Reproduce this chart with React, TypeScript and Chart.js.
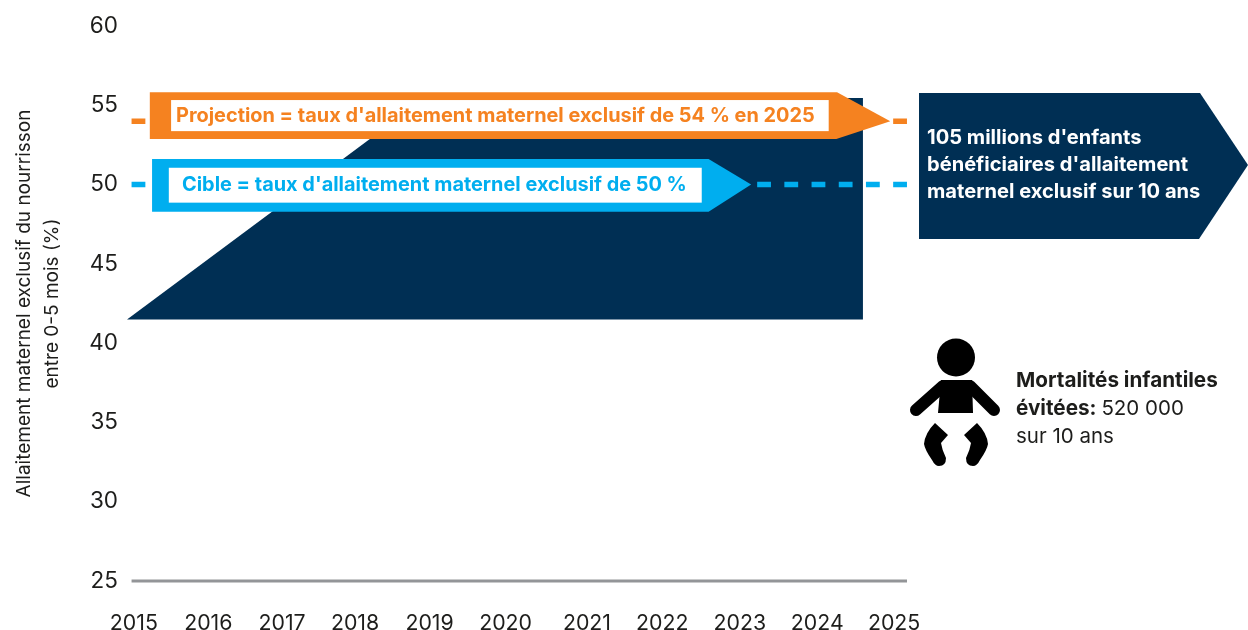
import React, { useEffect, useRef } from "react";
import { Chart, registerables } from "chart.js";

Chart.register(...registerables);

const FONT = "Inter, 'Noto Sans', sans-serif";
const NAVY = "#002F54";
const ORANGE = "#F58220";
const CYAN = "#00AEEF";
const INK = "#1d1d1b";

// Axis content
const yearTicks = [2015, 2015.98, 2016.95, 2017.91, 2018.89, 2019.89, 2020.96, 2021.95, 2022.97, 2023.99, 2025];
const yearLabels = ["2015", "2016", "2017", "2018", "2019", "2020", "2021", "2022", "2023", "2024", "2025"];
const yTitle = ["Allaitement maternel exclusif du nourrisson", "entre 0-5 mois (%)"];

// Series
const trendYears = [2014.91, 2018.83, 2024.59];
const trendRates = [41.49, 55.46, 55.46];
const trendFloor = 41.49;
const projectionYears = [2014.97, 2025.17];
const projectionRates = [54, 54];
const targetYears = [2014.97, 2025.17];
const targetRates = [50, 50];
const baselineYears = [2014.97, 2025.17];
const baselineRates = [25, 25];

// Arrow bands, in axis units: [year, rate]
const projectionArrow = [[2015.21, 55.82], [2024.25, 55.82], [2024.95, 54], [2024.24, 52.87], [2015.21, 52.87]];
const projectionBox = [2015.49, 55.33, 2024.14, 53.37];
const targetArrow = [[2015.24, 51.61], [2022.56, 51.61], [2023.12, 50], [2022.56, 48.29], [2015.24, 48.29]];
const targetBox = [2015.46, 51.06, 2022.47, 48.86];

const projectionText = "Projection = taux d'allaitement maternel exclusif de 54 % en 2025";
const targetText = "Cible = taux d'allaitement maternel exclusif de 50 %";
const calloutLines = ["105 millions d'enfants", "bénéficiaires d'allaitement", "maternel exclusif sur 10 ans"];

function pairs(xs: number[], ys: number[]) {
  return xs.map((x, i) => ({ x, y: ys[i] }));
}

function drawBand(chart: any, points: number[][], box: number[], color: string, text: string, textX: number) {
  const { ctx, scales } = chart;
  const px = (v: number) => scales.x.getPixelForValue(v);
  const py = (v: number) => scales.y.getPixelForValue(v);
  ctx.fillStyle = color;
  ctx.beginPath();
  points.forEach(([x, y], i) => (i ? ctx.lineTo(px(x), py(y)) : ctx.moveTo(px(x), py(y))));
  ctx.closePath();
  ctx.fill();
  const bx = px(box[0]);
  const by = py(box[1]);
  const bw = px(box[2]) - bx;
  const bh = py(box[3]) - by;
  ctx.fillStyle = "#ffffff";
  ctx.fillRect(bx, by, bw, bh);
  ctx.fillStyle = color;
  ctx.font = `700 19.9px ${FONT}`;
  ctx.textAlign = "left";
  ctx.textBaseline = "middle";
  ctx.fillText(text, textX, by + bh / 2);
}

function drawCallout(ctx: CanvasRenderingContext2D) {
  ctx.fillStyle = NAVY;
  ctx.beginPath();
  ctx.moveTo(919, 93);
  ctx.lineTo(1200, 93);
  ctx.lineTo(1248, 165);
  ctx.lineTo(1199, 239);
  ctx.lineTo(919, 239);
  ctx.closePath();
  ctx.fill();
  ctx.fillStyle = "#ffffff";
  ctx.font = `700 20.1px ${FONT}`;
  ctx.textAlign = "left";
  ctx.textBaseline = "middle";
  calloutLines.forEach((line, i) => ctx.fillText(line, 927, 138 + i * 27));
}

function drawBaby(ctx: CanvasRenderingContext2D) {
  ctx.fillStyle = "#000000";
  ctx.strokeStyle = "#000000";
  ctx.beginPath();
  ctx.arc(956, 357.5, 19, 0, Math.PI * 2);
  ctx.fill();
  // torso
  ctx.beginPath();
  ctx.moveTo(941, 380);
  ctx.lineTo(972, 380);
  ctx.lineTo(973, 413);
  ctx.lineTo(938, 413);
  ctx.closePath();
  ctx.fill();
  // arms
  ctx.lineCap = "round";
  ctx.lineWidth = 12;
  ctx.beginPath();
  ctx.moveTo(943, 386);
  ctx.lineTo(916, 410);
  ctx.moveTo(970, 386);
  ctx.lineTo(994, 410);
  ctx.stroke();
  // legs
  const leg = (m: number) => {
    const sx = (x: number) => (m < 0 ? 1912 - x : x);
    ctx.beginPath();
    ctx.moveTo(sx(935), 423);
    ctx.lineTo(sx(948), 435);
    ctx.lineTo(sx(941), 443);
    ctx.quadraticCurveTo(sx(942), 450, sx(946), 458);
    ctx.quadraticCurveTo(sx(946), 466, sx(939), 466);
    ctx.quadraticCurveTo(sx(935), 466, sx(932), 460);
    ctx.quadraticCurveTo(sx(925), 450, sx(924), 444);
    ctx.quadraticCurveTo(sx(925), 433, sx(935), 423);
    ctx.closePath();
    ctx.fill();
  };
  leg(1);
  leg(-1);
  // caption
  ctx.fillStyle = INK;
  ctx.textAlign = "left";
  ctx.textBaseline = "middle";
  ctx.font = `700 20.7px ${FONT}`;
  ctx.fillText("Mortalités infantiles", 1016, 381);
  ctx.fillText("évitées:", 1016, 409);
  const w = ctx.measureText("évitées: ").width;
  ctx.font = `400 20.5px ${FONT}`;
  ctx.fillText("520 000", 1016 + w, 409);
  ctx.fillText("sur 10 ans", 1016, 437);
}

const overlay = {
  id: "overlay",
  afterDatasetsDraw(chart: any) {
    const { ctx } = chart;
    ctx.save();
    drawBand(chart, projectionArrow, projectionBox, ORANGE, projectionText, 176);
    drawBand(chart, targetArrow, targetBox, CYAN, targetText, 182);
    drawCallout(ctx);
    drawBaby(ctx);
    ctx.restore();
  },
};

export default function App() {
  const ref = useRef<HTMLCanvasElement>(null);

  useEffect(() => {
    const line = {
      pointRadius: 0,
      clip: false,
      tension: 0,
      borderCapStyle: "butt",
    };
    const chart = new Chart(ref.current as HTMLCanvasElement, {
      type: "line",
      data: {
        datasets: [
          {
            ...line,
            label: "Projection",
            data: pairs(projectionYears, projectionRates),
            borderColor: ORANGE,
            borderWidth: 5.5,
            borderDash: [13.8, 13.4],
            order: 1,
          },
          {
            ...line,
            label: "Cible",
            data: pairs(targetYears, targetRates),
            borderColor: CYAN,
            borderWidth: 5.5,
            borderDash: [13.8, 13.4],
            order: 1,
          },
          {
            ...line,
            label: "Tendance",
            data: pairs(trendYears, trendRates),
            borderColor: NAVY,
            backgroundColor: NAVY,
            borderWidth: 0,
            fill: { value: trendFloor },
            order: 2,
          },
          {
            ...line,
            label: "Axe",
            data: pairs(baselineYears, baselineRates),
            borderColor: "#939598",
            borderWidth: 3,
            order: 3,
          },
        ],
      } as any,
      options: {
        responsive: false,
        animation: false,
        layout: { padding: { top: 26, right: 341, left: 0, bottom: 0 } },
        plugins: { legend: { display: false }, tooltip: { enabled: false } },
        scales: {
          x: {
            type: "linear",
            min: 2014.91,
            max: 2025.17,
            grid: { display: false },
            border: { display: false },
            afterBuildTicks(scale: any) {
              scale.ticks = yearTicks.map((value) => ({ value }));
            },
            afterFit(scale: any) {
              scale.height = 49;
            },
            ticks: {
              autoSkip: false,
              maxRotation: 0,
              padding: 22,
              color: INK,
              font: { family: FONT, size: 21.3 },
              callback: (_v: any, i: number) => yearLabels[i],
            },
          },
          y: {
            min: 25,
            max: 60,
            grid: { display: false },
            border: { display: false },
            afterFit(scale: any) {
              scale.width = 127;
            },
            ticks: {
              stepSize: 5,
              padding: 1,
              color: INK,
              font: { family: FONT, size: 22.5 },
            },
            title: {
              display: true,
              text: yTitle,
              color: INK,
              font: { family: FONT, size: 19, lineHeight: 1.47 },
              padding: { top: 10, bottom: 0 },
            },
          },
        },
      } as any,
      plugins: [overlay],
    });
    return () => chart.destroy();
  }, []);

  return (
    <div style={{ position: "absolute", left: 0, top: 0, width: 1248, height: 630, background: "#fff" }}>
      <canvas ref={ref} width={1248} height={630} style={{ display: "block" }} />
    </div>
  );
}
